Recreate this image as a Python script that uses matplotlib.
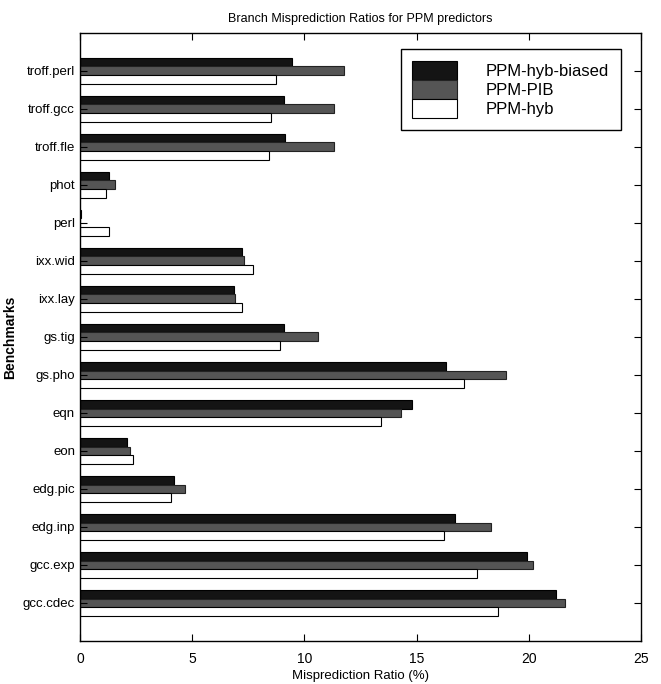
#!/usr/bin/env python3

# import modules
from matplotlib import pyplot as plt
import numpy as np

plt.rcParams['font.family'] = ['Liberation Sans', 'DejaVu Sans']

# data (top to bottom)
benchmarks = ['troff.perl', 'troff.gcc', 'troff.fle', 'phot', 'perl', 'ixx.wid', 'ixx.lay',
              'gs.tig', 'gs.pho', 'eqn', 'eon', 'edg.pic', 'edg.inp', 'gcc.exp', 'gcc.cdec']
hyb_biased = [9.45, 9.1, 9.15, 1.3, 0.05, 7.2, 6.85, 9.1, 16.3, 14.8, 2.1, 4.2, 16.7, 19.9, 21.2]
pib = [11.75, 11.3, 11.3, 1.55, 0.0, 7.3, 6.9, 10.6, 19.0, 14.3, 2.25, 4.7, 18.3, 20.2, 21.6]
hyb = [8.75, 8.5, 8.4, 1.15, 1.3, 7.7, 7.2, 8.9, 17.1, 13.4, 2.35, 4.05, 16.2, 17.7, 18.6]

# bottom to top positions, like matlab barh
pos = np.arange(len(benchmarks), 0, -1)
h = 0.23

fig = plt.figure(figsize=(6.61, 6.84), dpi=100)
ax = fig.add_axes([0.121, 0.063, 0.849, 0.889])

ax.barh(pos + h, hyb_biased, height=h, color='#141414', edgecolor='black', linewidth=0.8, label='PPM-hyb-biased')
ax.barh(pos, pib, height=h, color='#555555', edgecolor='#222222', linewidth=0.8, label='PPM-PIB')
ax.barh(pos - h, hyb, height=h, color='white', edgecolor='black', linewidth=0.8, label='PPM-hyb')

ax.set_xlim(0, 25)
ax.set_ylim(0, 16)
ax.set_xticks([0, 5, 10, 15, 20, 25])
ax.set_yticks(pos)
ax.set_yticklabels(benchmarks, fontsize=9.5)
ax.tick_params(axis='x', labelsize=10, pad=8)
ax.tick_params(direction='in', top=True, right=True, length=5, width=0.8)
for s in ax.spines.values():
	s.set_linewidth(1.0)

ax.set_xlabel('Misprediction Ratio (%)', fontsize=9.5, labelpad=3)
ax.set_ylabel('Benchmarks', fontsize=10, fontweight='bold', labelpad=4)
ax.set_title('Branch Misprediction Ratios for PPM predictors', fontsize=9, pad=8)

leg = ax.legend(loc='upper right', bbox_to_anchor=(0.939, 0.928), bbox_transform=fig.transFigure,
                fontsize=12, fancybox=False, edgecolor='black', framealpha=1,
                labelspacing=0, handleheight=1.38, handlelength=2.7, handletextpad=1.7,
                borderpad=0.7, borderaxespad=0)
leg.get_frame().set_linewidth(1.0)

# write to disk
plt.savefig('out.png', dpi=100)
